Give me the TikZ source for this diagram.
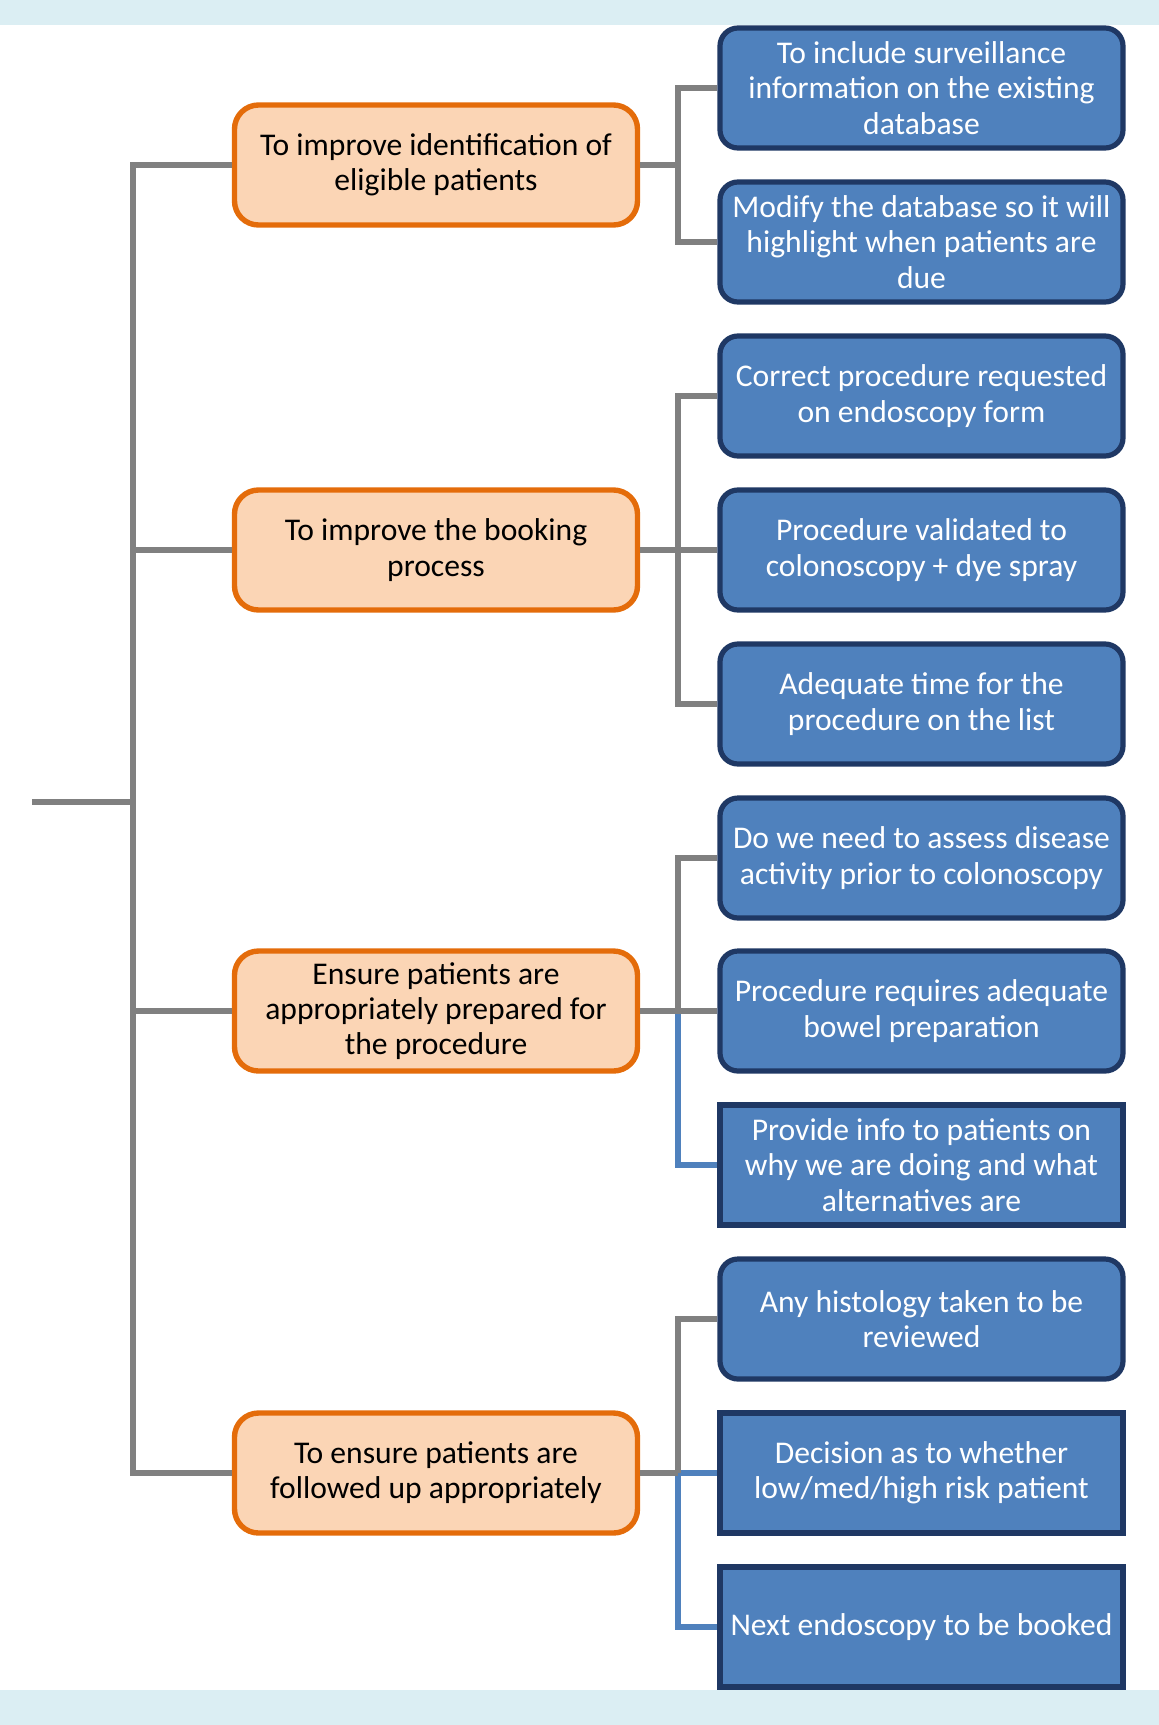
\documentclass[tikz,border=0pt]{standalone}
\usepackage{fontspec}
\setmainfont{Carlito}
\usetikzlibrary{calc}
\definecolor{bandblue}{HTML}{DBEEF3}
\definecolor{aimfill}{HTML}{FBD5B5}
\definecolor{aimdraw}{HTML}{E46C0A}
\definecolor{actfill}{HTML}{4F81BD}
\definecolor{actdraw}{HTML}{1F3864}
\definecolor{linkgray}{HTML}{808080}
\tikzset{
	aim/.style={draw=aimdraw, fill=aimfill, line width=2.7pt, rounded corners=12pt,
		minimum width=201.5pt, minimum height=60pt, align=center, text=black,
		inner sep=2pt, font=\fontsize{15.8}{17.6}\selectfont},
	act/.style={draw=actdraw, fill=actfill, line width=2.6pt, rounded corners=9pt,
		minimum width=201.5pt, minimum height=60pt, align=center, text=white,
		inner sep=2pt, font=\fontsize{15.8}{17.6}\selectfont},
	actsq/.style={act, rounded corners=0pt},
	link/.style={draw=linkgray, line width=2.6pt},
	bluelink/.style={draw=actfill, line width=2.6pt}
}
\begin{document}
\begin{tikzpicture}[x=0.5pt,y=-0.5pt]
	\useasboundingbox (0,0) rectangle (1159,1725);
	\fill[bandblue] (0,0) rectangle (1159,25);
	\fill[bandblue] (0,1690) rectangle (1159,1725);
	\node[aim] (g1) at (436,165) {To improve identification of\\eligible patients};
	\node[aim] (g2) at (436,550) {To improve the booking\\process};
	\node[aim] (g3) at (436,1011) {Ensure patients are\\appropriately prepared for\\the procedure};
	\node[aim] (g4) at (436,1473) {To ensure patients are\\followed up appropriately};
	\node[act] (a1) at (921.5,88) {To include surveillance\\information on the existing\\database};
	\node[act] (a2) at (921.5,242) {Modify the database so it will\\highlight when patients are\\due};
	\node[act] (a3) at (921.5,396) {Correct procedure requested\\on endoscopy form};
	\node[act] (a4) at (921.5,550) {Procedure validated to\\colonoscopy + dye spray};
	\node[act] (a5) at (921.5,704) {Adequate time for the\\procedure on the list};
	\node[act] (a6) at (921.5,858) {Do we need to assess disease\\activity prior to colonoscopy};
	\node[act] (a7) at (921.5,1011) {Procedure requires adequate\\bowel preparation};
	\node[actsq] (a8) at (921.5,1165) {Provide info to patients on\\why we are doing and what\\alternatives are};
	\node[act] (a9) at (921.5,1319) {Any histology taken to be\\reviewed};
	\node[actsq] (a10) at (921.5,1473) {Decision as to whether\\low/med/high risk patient};
	\node[actsq] (a11) at (921.5,1627) {Next endoscopy to be booked};
	\coordinate (root) at (32,802);
	\coordinate (trunk) at (133,802);
	\coordinate (bx) at (678,0);
	\draw[link] (root) -- (trunk);
	\draw[link] (g1.west) -| (trunk) |- (g4.west);
	\draw[link] (g2.west) -- (g2.west -| trunk);
	\draw[link] (g3.west) -- (g3.west -| trunk);
	\draw[link] (g1.east) -- (bx |- g1.east);
	\draw[link] (a1.west) -| (bx |- g1.east) |- (a2.west);
	\draw[link] (a3.west) -| (bx |- g2.east) |- (a5.west);
	\draw[link] (g2.east) -- (a4.west);
	\draw[bluelink] (bx |- g3.east) |- (a8.west);
	\draw[link] (a6.west) -| (bx |- g3.east);
	\draw[link] (g3.east) -- (a7.west);
	\draw[bluelink] (bx |- g4.east) -- (a10.west);
	\draw[bluelink] (bx |- g4.east) |- (a11.west);
	\draw[link] (a9.west) -| (bx |- g4.east);
	\draw[link] (g4.east) -- (bx |- g4.east);
\end{tikzpicture}
\end{document}
